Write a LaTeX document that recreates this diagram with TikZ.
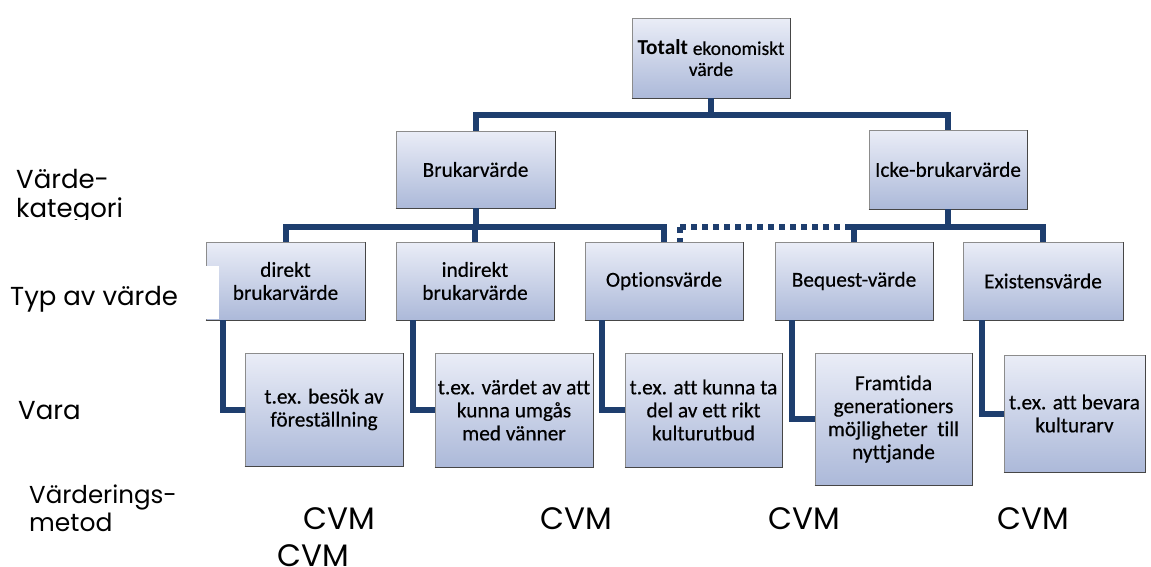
\documentclass[tikz,border=0pt]{standalone}
\usepackage{fontspec}
\setmainfont{Carlito}
\newfontfamily\boxfont[Ligatures=NoCommon,FakeBold=0.4]{Carlito}
\newfontfamily\lblfont{Poppins}
\usetikzlibrary{calc}
\definecolor{conncol}{RGB}{30,62,110}
\definecolor{boxtop}{RGB}{234,237,247}
\definecolor{boxbot}{RGB}{172,185,217}
\definecolor{boxedge}{RGB}{140,140,140}
\definecolor{boxshade}{RGB}{70,70,70}
\begin{document}
\begin{tikzpicture}[x=1pt,y=-1pt,
  bx/.style={draw=boxedge, line width=0.8pt, top color=boxtop, bottom color=boxbot,
    align=center, inner sep=0pt, font=\boxfont\fontsize{21.3}{23}\selectfont, text=black},
  conn/.style={draw=conncol, line width=6pt},
  dotconn/.style={draw=conncol, line width=6pt, dash pattern=on 6pt off 5pt},
  lbl/.style={anchor=base west, inner sep=0pt, font=\lblfont\fontsize{26}{29}\selectfont},
  cvm/.style={anchor=base west, inner sep=0pt, font=\lblfont\fontsize{31}{31}\selectfont}]
\useasboundingbox (0,0) rectangle (1151,566);
\clip (0,0) rectangle (1151,566);
\fill[white] (0,0) rectangle (1151,566);

% boxes
\node[bx, minimum width=158pt, minimum height=80pt] (tot) at (711,58)
  {{\normalfont\bfseries Totalt} {\fontsize{19.5}{21}\selectfont ekonomiskt}\\[-2pt]{\fontsize{19.5}{21}\selectfont värde}};
\node[bx, minimum width=159pt, minimum height=77pt] (bruk) at (475.5,169.5) {Brukarvärde};
\node[bx, minimum width=158pt, minimum height=79pt] (icke) at (948,169.5) {Icke-brukarvärde};

\node[bx, minimum width=159pt, minimum height=78pt] (dir) at (285.5,281) {direkt\\brukarvärde};
\node[bx, minimum width=158pt, minimum height=78pt] (ind) at (475,281) {indirekt\\brukarvärde};
\node[bx, minimum width=158pt, minimum height=78pt] (opt) at (664,281) {Optionsvärde};
\node[bx, minimum width=158pt, minimum height=78pt] (beq) at (854,281) {Bequest-värde};
\node[bx, minimum width=160pt, minimum height=78pt] (exi) at (1043,281) {Existensvärde};

\node[bx, minimum width=158pt, minimum height=113pt] (besok) at (324,409.5) {t.ex. besök av\\föreställning};
\node[bx, minimum width=158pt, minimum height=114pt] (vard) at (514,410) {t.ex. värdet av att\\kunna umgås\\med vänner};
\node[bx, minimum width=157pt, minimum height=114pt] (kunna) at (703.5,410) {t.ex. att kunna ta\\del av ett rikt\\kulturutbud};
\node[bx, minimum width=157pt, minimum height=132pt] (fram) at (893.5,419) {Framtida\\generationers\\möjligheter\ \ till\\nyttjande};
\node[bx, minimum width=141pt, minimum height=117pt] (bev) at (1074.5,413.5) {t.ex. att bevara\\kulturarv};

\foreach \n in {tot,bruk,icke,dir,ind,opt,beq,exi,besok,vard,kunna,fram,bev}
  \draw[boxshade, line width=1.3pt] (\n.south west) -- (\n.south east) -- (\n.north east);

% white patch over the left edge of the first type box
\fill[white] (204,266) rectangle (218.5,319.3);

% junction coordinates
\coordinate (j1) at (711,115);
\coordinate (j2) at (600,227);
\coordinate (d1) at (680,227);

% connectors
\draw[conn] (tot.south) -- (j1);
\draw[conn] (bruk.north) -- (bruk.north |- j1) -- (icke.north |- j1) -- (icke.north);

\draw[conn] (bruk.south) -- (bruk.south |- j2);
\draw[conn] (dir.north) -- (dir.north |- j2) -- (opt.north |- j2) -- (opt.north);
\draw[conn] (ind.north) -- (ind.north |- j2);

\draw[conn] (icke.south) -- (icke.south |- j2);
\draw[conn] (beq.north) -- (beq.north |- j2) -- (exi.north |- j2) -- (exi.north);

\draw[dotconn] (d1) -- (beq.north |- j2);
\draw[dotconn] (d1) -- (d1 |- opt.north);

\draw[conn] ([xshift=17pt]dir.south west) |- (besok.west);
\draw[conn] ([xshift=17pt]ind.south west) |- (vard.west);
\draw[conn] ([xshift=17pt]opt.south west) |- (kunna.west);
\draw[conn] ([xshift=17pt]beq.south west) |- (fram.west);
\draw[conn] ([xshift=19pt]exi.south west) |- (bev.west);

% row labels
\begin{scope}
  \clip (0,140) rectangle (220,219);
  \node[lbl] (lv1) at (16,188) {Värde-};
  \node[lbl] (lv2) at (16,217) {kategori};
\end{scope}
\node[lbl] (ltyp) at (10,305) {Typ av värde};
\node[lbl] (lvara) at (18,419) {Vara};
\node[lbl, font=\lblfont\fontsize{24.5}{29}\selectfont] (lm1) at (29,503) {Värderings-};
\node[lbl, font=\lblfont\fontsize{25}{29}\selectfont] (lm2) at (29,531) {metod};

\node[cvm] (c1) at (303,529) {CVM};
\node[cvm] (c2) at (540,529) {CVM};
\node[cvm] (c3) at (768,529) {CVM};
\node[cvm] (c4) at (997,529) {CVM};
\node[cvm] (c5) at (277,566) {CVM};
\end{tikzpicture}
\end{document}
